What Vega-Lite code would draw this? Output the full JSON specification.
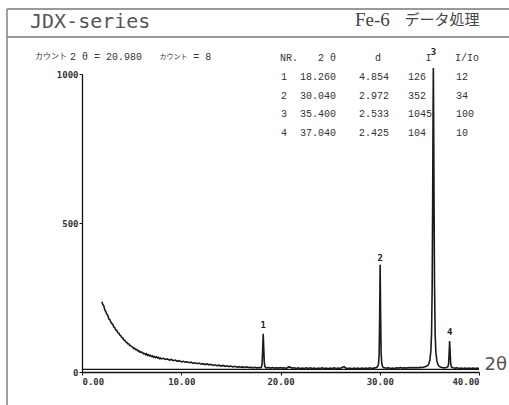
{
  "$schema": "https://vega.github.io/schema/vega-lite/v6.json",
  "width": 397,
  "height": 298,
  "autosize": {"type": "none"},
  "padding": {"left": 82, "top": 74, "right": 30, "bottom": 33},
  "background": "white",
  "config": {"view": {"stroke": null}, "text": {"clip": false}},
  "datasets": {
    "spectrum": [
      {"t":2.0,"c":236},{"t":2.1,"c":226},{"t":2.2,"c":221},{"t":2.3,"c":208},{"t":2.4,"c":203},{"t":2.5,"c":194},{"t":2.6,"c":190},{"t":2.7,"c":178},{"t":2.8,"c":176},{"t":2.9,"c":168},
      {"t":3.0,"c":163},{"t":3.1,"c":160},{"t":3.2,"c":151},{"t":3.3,"c":149},{"t":3.4,"c":141},{"t":3.5,"c":140},{"t":3.6,"c":132},{"t":3.7,"c":131},{"t":3.8,"c":124},{"t":3.9,"c":122},
      {"t":4.0,"c":116},{"t":4.1,"c":115},{"t":4.2,"c":108},{"t":4.3,"c":107},{"t":4.4,"c":101},{"t":4.5,"c":100},{"t":4.6,"c":95},{"t":4.7,"c":95},{"t":4.8,"c":89},{"t":4.9,"c":89},
      {"t":5.0,"c":85},{"t":5.1,"c":84},{"t":5.2,"c":79},{"t":5.3,"c":80},{"t":5.4,"c":75},{"t":5.5,"c":76},{"t":5.6,"c":71},{"t":5.7,"c":72},{"t":5.8,"c":67},{"t":5.9,"c":68},
      {"t":6.0,"c":65},{"t":6.1,"c":66},{"t":6.2,"c":61},{"t":6.3,"c":62},{"t":6.4,"c":58},{"t":6.5,"c":61},{"t":6.6,"c":56},{"t":6.7,"c":58},{"t":6.8,"c":54},{"t":6.9,"c":56},
      {"t":7.0,"c":52},{"t":7.1,"c":54},{"t":7.2,"c":50},{"t":7.3,"c":52},{"t":7.4,"c":48},{"t":7.5,"c":51},{"t":7.6,"c":47},{"t":7.7,"c":49},{"t":7.8,"c":45},{"t":7.9,"c":47},
      {"t":8.0,"c":44},{"t":8.2,"c":46},{"t":8.4,"c":42},{"t":8.6,"c":44},{"t":8.8,"c":40},{"t":9.0,"c":42},{"t":9.2,"c":38},{"t":9.4,"c":40},{"t":9.6,"c":36},{"t":9.8,"c":38},
      {"t":10.0,"c":34},{"t":10.2,"c":36},{"t":10.4,"c":33},{"t":10.6,"c":34},{"t":10.8,"c":31},{"t":11.0,"c":33},{"t":11.2,"c":29},{"t":11.4,"c":31},{"t":11.6,"c":28},{"t":11.8,"c":30},
      {"t":12.0,"c":26},{"t":12.2,"c":28},{"t":12.4,"c":25},{"t":12.6,"c":27},{"t":12.8,"c":24},{"t":13.0,"c":26},{"t":13.2,"c":22},{"t":13.4,"c":24},{"t":13.6,"c":21},{"t":13.8,"c":23},
      {"t":14.0,"c":20},{"t":14.2,"c":22},{"t":14.4,"c":19},{"t":14.6,"c":21},{"t":14.8,"c":18},{"t":15.0,"c":20},{"t":15.2,"c":17},{"t":15.4,"c":19},{"t":15.6,"c":16},{"t":15.8,"c":18},
      {"t":16.0,"c":16},{"t":16.2,"c":17},{"t":16.4,"c":15},{"t":16.6,"c":17},{"t":16.8,"c":15},{"t":17.0,"c":16},{"t":17.2,"c":14},{"t":17.4,"c":16},{"t":17.6,"c":14},{"t":17.8,"c":15},
      {"t":18.0,"c":14},{"t":18.1,"c":18},{"t":18.15,"c":30},{"t":18.2,"c":70},{"t":18.26,"c":128},{"t":18.32,"c":72},{"t":18.37,"c":32},{"t":18.42,"c":19},{"t":18.5,"c":15},
      {"t":18.6,"c":14},{"t":18.8,"c":15},{"t":19.0,"c":13},{"t":19.2,"c":15},{"t":19.4,"c":13},{"t":19.6,"c":14},{"t":19.8,"c":13},{"t":20.0,"c":15},{"t":20.2,"c":13},{"t":20.4,"c":14},
      {"t":20.6,"c":12},{"t":20.8,"c":17},{"t":21.0,"c":16},{"t":21.2,"c":13},{"t":21.4,"c":14},{"t":21.6,"c":12},{"t":21.8,"c":14},{"t":22.0,"c":12},{"t":22.2,"c":13},{"t":22.4,"c":12},
      {"t":22.6,"c":14},{"t":22.8,"c":12},{"t":23.0,"c":14},{"t":23.2,"c":12},{"t":23.4,"c":13},{"t":23.6,"c":11},{"t":23.8,"c":13},{"t":24.0,"c":12},{"t":24.2,"c":14},{"t":24.4,"c":12},
      {"t":24.6,"c":13},{"t":24.8,"c":11},{"t":25.0,"c":13},{"t":25.2,"c":12},{"t":25.4,"c":14},{"t":25.6,"c":12},{"t":25.8,"c":13},{"t":26.0,"c":12},{"t":26.2,"c":15},{"t":26.4,"c":18},
      {"t":26.6,"c":13},{"t":26.8,"c":12},{"t":27.0,"c":13},{"t":27.2,"c":11},{"t":27.4,"c":13},{"t":27.6,"c":12},{"t":27.8,"c":13},{"t":28.0,"c":11},{"t":28.2,"c":13},{"t":28.4,"c":12},
      {"t":28.6,"c":13},{"t":28.8,"c":12},{"t":29.0,"c":14},{"t":29.2,"c":12},{"t":29.4,"c":13},{"t":29.6,"c":14},{"t":29.7,"c":16},
      {"t":29.8,"c":19},{"t":29.88,"c":28},{"t":29.94,"c":60},{"t":29.99,"c":180},{"t":30.04,"c":360},{"t":30.09,"c":185},{"t":30.14,"c":62},{"t":30.2,"c":30},{"t":30.28,"c":19},{"t":30.36,"c":15},
      {"t":30.5,"c":14},{"t":30.7,"c":13},{"t":30.9,"c":14},{"t":31.1,"c":12},{"t":31.3,"c":13},{"t":31.5,"c":12},{"t":31.7,"c":14},{"t":31.9,"c":13},{"t":32.1,"c":15},{"t":32.3,"c":13},
      {"t":32.5,"c":14},{"t":32.7,"c":13},{"t":32.9,"c":15},{"t":33.1,"c":14},{"t":33.3,"c":15},{"t":33.5,"c":14},{"t":33.7,"c":15},{"t":33.9,"c":14},{"t":34.1,"c":16},{"t":34.3,"c":15},
      {"t":34.5,"c":17},{"t":34.7,"c":19},{"t":34.85,"c":22},
      {"t":34.95,"c":28},{"t":35.05,"c":40},{"t":35.15,"c":70},{"t":35.22,"c":130},{"t":35.28,"c":280},{"t":35.33,"c":560},{"t":35.37,"c":850},{"t":35.4,"c":1020},{"t":35.43,"c":860},{"t":35.47,"c":570},
      {"t":35.52,"c":290},{"t":35.58,"c":130},{"t":35.65,"c":68},{"t":35.75,"c":38},{"t":35.85,"c":26},{"t":35.95,"c":20},{"t":36.1,"c":17},{"t":36.3,"c":15},{"t":36.5,"c":14},{"t":36.7,"c":15},
      {"t":36.85,"c":17},{"t":36.93,"c":25},{"t":36.98,"c":55},{"t":37.04,"c":104},{"t":37.1,"c":58},{"t":37.15,"c":27},{"t":37.22,"c":17},
      {"t":37.4,"c":14},{"t":37.6,"c":13},{"t":37.8,"c":14},{"t":38.0,"c":12},{"t":38.2,"c":13},{"t":38.4,"c":12},{"t":38.6,"c":13},{"t":38.8,"c":12},{"t":39.0,"c":13},{"t":39.2,"c":12},
      {"t":39.4,"c":13},{"t":39.6,"c":12},{"t":39.8,"c":13},{"t":40.0,"c":12}
    ],
    "peaks": [
      {"nr":1,"tth":18.26,"d":4.854,"I":126,"r":12},
      {"nr":2,"tth":30.04,"d":2.972,"I":352,"r":34},
      {"nr":3,"tth":35.40,"d":2.533,"I":1045,"r":100},
      {"nr":4,"tth":37.04,"d":2.425,"I":104,"r":10}
    ],
    "one": [{}]
  },
  "resolve": {"scale": {"y": "independent"}},
  "layer": [
    {
      "layer": [
        {
          "data": {"name": "one"},
          "mark": {"type": "rule", "color": "#111", "strokeWidth": 1.2, "clip": false},
          "encoding": {
            "x": {"datum": 0, "type": "quantitative"},
            "x2": {"datum": 40},
            "y": {"datum": 9, "type": "quantitative"}
          }
        },
        {
          "data": {"name": "spectrum"},
          "mark": {"type": "line", "color": "#1a1a1a", "strokeWidth": 1.6, "clip": false},
          "encoding": {
            "x": {"field": "t", "type": "quantitative", "scale": {"domain": [0, 40], "nice": false, "zero": false},
              "axis": {"values": [0, 10, 20, 30, 40], "format": ".2f", "grid": false, "tickSize": 3, "labelPadding": 2,
                "labelFont": "DejaVu Sans Mono", "labelFontSize": 9, "labelFontWeight": "bold", "labelColor": "#333",
                "domainColor": "#111", "domainWidth": 1.3, "tickColor": "#111",
                "title": "2θ", "titleFont": "DejaVu Sans", "titleFontSize": 18, "titleFontWeight": "normal", "titleColor": "#555",
                "titleAnchor": "start", "titleAlign": "left", "titleBaseline": "middle", "titleX": 402, "titleY": -8, "titleAngle": 0}},
            "y": {"field": "c", "type": "quantitative", "scale": {"domain": [0, 1000], "nice": false, "zero": false},
              "axis": {"values": [0, 500, 1000], "format": "d", "grid": false, "tickSize": 3, "labelPadding": 1,
                "labelFont": "DejaVu Sans Mono", "labelFontSize": 9, "labelFontWeight": "bold", "labelColor": "#333",
                "domainColor": "#111", "domainWidth": 1.3, "tickColor": "#111", "title": null}}
          }
        },
        {
          "data": {"name": "peaks"},
          "mark": {"type": "text", "font": "DejaVu Sans Mono", "fontSize": 9, "fontWeight": "bold", "color": "#222", "baseline": "bottom", "dy": -4},
          "encoding": {
            "x": {"field": "tth", "type": "quantitative"},
            "y": {"field": "I", "type": "quantitative"},
            "text": {"field": "nr", "type": "nominal"}
          }
        },
        {
          "data": {"name": "one"},
          "mark": {"type": "rule", "color": "#777", "strokeWidth": 1.6, "clip": false},
          "encoding": {"x": {"datum": -7.56, "type": "quantitative"}, "x2": {"datum": 43.3}, "y": {"datum": 1218, "type": "quantitative"}}
        },
        {
          "data": {"name": "one"},
          "mark": {"type": "rule", "color": "#777", "strokeWidth": 1.6, "clip": false},
          "encoding": {"x": {"datum": -7.56, "type": "quantitative"}, "x2": {"datum": 43.3}, "y": {"datum": 1124, "type": "quantitative"}}
        },
        {
          "data": {"name": "one"},
          "mark": {"type": "rule", "color": "#888", "strokeWidth": 1.6, "clip": false},
          "encoding": {"x": {"datum": -7.56, "type": "quantitative"}, "y": {"datum": 1218, "type": "quantitative"}, "y2": {"datum": -115}}
        },
        {
          "data": {"name": "one"},
          "mark": {"type": "text", "font": "DejaVu Sans Mono", "fontSize": 20, "color": "#555", "align": "left", "baseline": "middle"},
          "encoding": {"x": {"datum": -5.24, "type": "quantitative"}, "y": {"datum": 1176, "type": "quantitative"}, "text": {"value": "JDX-series"}}
        },
        {
          "data": {"name": "one"},
          "mark": {"type": "text", "font": "Liberation Serif", "fontSize": 19, "color": "#444", "align": "left", "baseline": "middle"},
          "encoding": {"x": {"datum": 27.5, "type": "quantitative"}, "y": {"datum": 1180, "type": "quantitative"}, "text": {"value": "Fe-6"}}
        },
        {
          "data": {"name": "one"},
          "mark": {"type": "text", "font": "Noto Sans CJK JP", "fontSize": 15, "color": "#444", "align": "left", "baseline": "middle"},
          "encoding": {"x": {"datum": 32.5, "type": "quantitative"}, "y": {"datum": 1180, "type": "quantitative"}, "text": {"value": "データ処理"}}
        },
        {
          "data": {"name": "one"},
          "mark": {"type": "text", "font": "Noto Sans CJK JP", "fontSize": 8, "color": "#333", "align": "left", "baseline": "middle"},
          "encoding": {"x": {"datum": -4.74, "type": "quantitative"}, "y": {"datum": 1058, "type": "quantitative"}, "text": {"value": "カウント"}}
        },
        {
          "data": {"name": "one"},
          "mark": {"type": "text", "font": "Liberation Mono", "fontSize": 10, "color": "#333", "align": "left", "baseline": "middle"},
          "encoding": {"x": {"datum": -1.2, "type": "quantitative"}, "y": {"datum": 1056, "type": "quantitative"}, "text": {"value": "2 θ =  20.980"}}
        },
        {
          "data": {"name": "one"},
          "mark": {"type": "text", "font": "Noto Sans CJK JP", "fontSize": 7, "color": "#333", "align": "left", "baseline": "middle"},
          "encoding": {"x": {"datum": 7.8, "type": "quantitative"}, "y": {"datum": 1056, "type": "quantitative"}, "text": {"value": "カウント"}}
        },
        {
          "data": {"name": "one"},
          "mark": {"type": "text", "font": "Liberation Mono", "fontSize": 10, "color": "#333", "align": "left", "baseline": "middle"},
          "encoding": {"x": {"datum": 11.2, "type": "quantitative"}, "y": {"datum": 1056, "type": "quantitative"}, "text": {"value": "= 8"}}
        }
      ]
    },
    {
      "data": {"name": "peaks"},
      "layer": [
        {
          "mark": {"type": "text", "font": "Liberation Mono", "fontSize": 10, "color": "#333", "align": "left", "baseline": "middle"},
          "encoding": {
            "x": {"datum": 20.05, "type": "quantitative"},
            "y": {"field": "nr", "type": "ordinal", "scale": {"type": "point", "domain": [0, 1, 2, 3, 4], "range": [-16, 59], "padding": 0}, "axis": null},
            "text": {"field": "nr", "type": "nominal"}
          }
        },
        {
          "mark": {"type": "text", "font": "Liberation Mono", "fontSize": 10, "color": "#333", "align": "center", "baseline": "middle"},
          "encoding": {
            "x": {"datum": 23.78, "type": "quantitative"},
            "y": {"field": "nr", "type": "ordinal"},
            "text": {"field": "tth", "type": "quantitative", "format": ".3f"}
          }
        },
        {
          "mark": {"type": "text", "font": "Liberation Mono", "fontSize": 10, "color": "#333", "align": "center", "baseline": "middle"},
          "encoding": {
            "x": {"datum": 29.42, "type": "quantitative"},
            "y": {"field": "nr", "type": "ordinal"},
            "text": {"field": "d", "type": "quantitative", "format": ".3f"}
          }
        },
        {
          "mark": {"type": "text", "font": "Liberation Mono", "fontSize": 10, "color": "#333", "align": "left", "baseline": "middle"},
          "encoding": {
            "x": {"datum": 32.85, "type": "quantitative"},
            "y": {"field": "nr", "type": "ordinal"},
            "text": {"field": "I", "type": "quantitative", "format": "d"}
          }
        },
        {
          "mark": {"type": "text", "font": "Liberation Mono", "fontSize": 10, "color": "#333", "align": "left", "baseline": "middle"},
          "encoding": {
            "x": {"datum": 37.68, "type": "quantitative"},
            "y": {"field": "nr", "type": "ordinal"},
            "text": {"field": "r", "type": "quantitative", "format": "d"}
          }
        },
        {
          "data": {"name": "one"},
          "mark": {"type": "text", "font": "Liberation Mono", "fontSize": 10, "color": "#333", "align": "left", "baseline": "middle"},
          "encoding": {"x": {"datum": 19.95, "type": "quantitative"}, "y": {"datum": 0, "type": "ordinal"}, "text": {"value": "NR."}}
        },
        {
          "data": {"name": "one"},
          "mark": {"type": "text", "font": "Liberation Mono", "fontSize": 10, "color": "#333", "align": "center", "baseline": "middle"},
          "encoding": {"x": {"datum": 24.69, "type": "quantitative"}, "y": {"datum": 0, "type": "ordinal"}, "text": {"value": "2 θ"}}
        },
        {
          "data": {"name": "one"},
          "mark": {"type": "text", "font": "Liberation Mono", "fontSize": 10, "color": "#333", "align": "center", "baseline": "middle"},
          "encoding": {"x": {"datum": 29.82, "type": "quantitative"}, "y": {"datum": 0, "type": "ordinal"}, "text": {"value": "d"}}
        },
        {
          "data": {"name": "one"},
          "mark": {"type": "text", "font": "Liberation Mono", "fontSize": 10, "color": "#333", "align": "center", "baseline": "middle"},
          "encoding": {"x": {"datum": 34.9, "type": "quantitative"}, "y": {"datum": 0, "type": "ordinal"}, "text": {"value": "I"}}
        },
        {
          "data": {"name": "one"},
          "mark": {"type": "text", "font": "Liberation Mono", "fontSize": 10, "color": "#333", "align": "left", "baseline": "middle"},
          "encoding": {"x": {"datum": 37.58, "type": "quantitative"}, "y": {"datum": 0, "type": "ordinal"}, "text": {"value": "I/Io"}}
        }
      ]
    }
  ]
}
